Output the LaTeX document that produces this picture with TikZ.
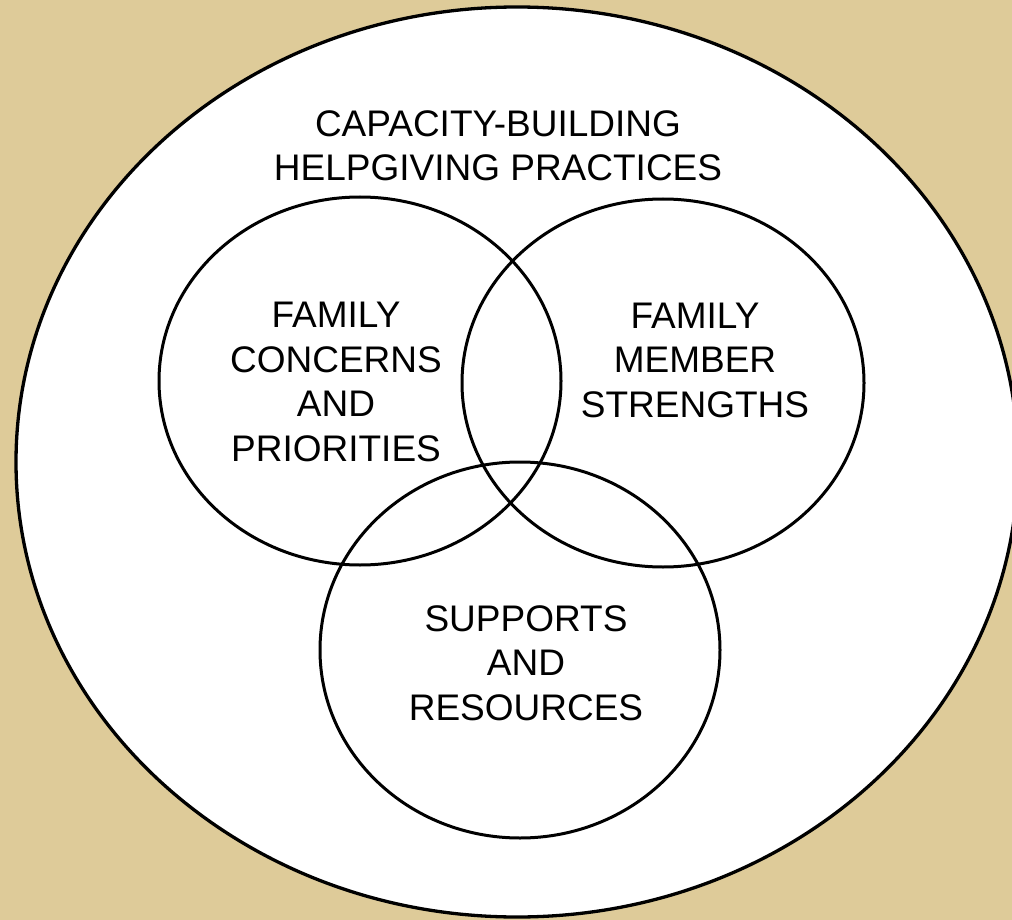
\documentclass[tikz,border=0pt]{standalone}
\usepackage{fontspec}
\setmainfont{Liberation Sans}
\definecolor{tan}{RGB}{222,203,153}

\tikzset{
    ring/.style={draw=black, line width=3pt},
    vtext/.style={align=center, font=\fontsize{37}{44.5}\selectfont, inner sep=0pt}
}

\begin{document}
\begin{tikzpicture}[x=1pt,y=-1pt]

    \clip (0,0) rectangle (1012,920);
    \fill[tan] (0,0) rectangle (1012,920);

    % outer ellipse
    \draw[ring, fill=white, line width=3.3pt] (517,462) ellipse [x radius=501pt, y radius=455pt];

    % three circles
    \draw[ring] (360,381) ellipse [x radius=201pt, y radius=184pt];
    \draw[ring] (663,383) ellipse [x radius=201pt, y radius=184pt];
    \draw[ring] (520,650) ellipse [x radius=200pt, y radius=188pt];

    \node[vtext] (cap)      at (498,146) {CAPACITY-BUILDING\\HELPGIVING PRACTICES};
    \node[vtext] (concerns) at (336,382) {FAMILY\\CONCERNS\\AND\\PRIORITIES};
    \node[vtext] (strength) at (695,360) {FAMILY\\MEMBER\\STRENGTHS};
    \node[vtext] (supports) at (526,663) {SUPPORTS\\AND\\RESOURCES};

\end{tikzpicture}
\end{document}
